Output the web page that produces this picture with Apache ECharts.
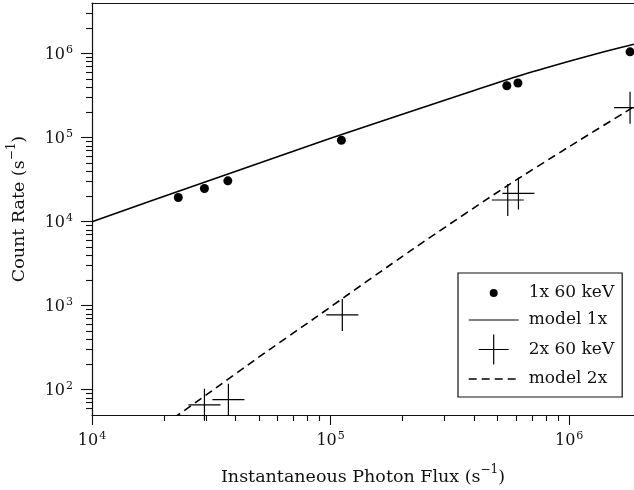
<!DOCTYPE html>
<html>
<head>
<meta charset="UTF-8">
<title>Count Rate vs Instantaneous Photon Flux</title>
<script src="https://cdn.jsdelivr.net/npm/echarts@6/dist/echarts.min.js"></script>
<style>
  html, body { margin: 0; padding: 0; background: #fff; }
  #chart { width: 634px; height: 490px; }
</style>
</head>
<body>
<div id="chart"></div>
<script>
// values
const flux1x = [2.3e4, 2.96e4, 3.71e4, 1.11e5, 5.48e5, 6.1e5, 1.8e6]
const rate1x = [1.94e4, 2.48e4, 3.06e4, 9.3e4, 4.14e5, 4.46e5, 1.05e6]

const flux2x = [2.96e4, 3.73e4, 1.12e5, 5.53e5, 6.13e5, 1.8e6]
const rate2x = [66, 76, 776, 1.81e4, 2.17e4, 2.27e5]

const modelFlux1x = [1e4, 3e4, 1e5, 2e5, 3.85e5, 6e5, 1e6, 1.4e6, 1.87e6]
const modelRate1x = [1e4, 2.98e4, 9.8e4, 1.9e5, 3.52e5, 5.3e5, 8.1e5, 1.05e6, 1.29e6]

const modelFlux2x = [2.2e4, 3e4, 5e4, 8.75e4, 2.22e5, 5.5e5, 1e6, 1.87e6]
const modelRate2x = [46, 86, 244, 740, 4740, 2.67e4, 7.8e4, 2.33e5]

const xMajor = [1e4, 1e5, 1e6]
const xMinor = [2e4, 3e4, 4e4, 5e4, 6e4, 7e4, 8e4, 9e4, 2e5, 3e5, 4e5, 5e5, 6e5, 7e5, 8e5, 9e5]
const yMajor = [1e2, 1e3, 1e4, 1e5, 1e6]
const yMinor = [60, 70, 80, 90, 2e2, 3e2, 4e2, 5e2, 6e2, 7e2, 8e2, 9e2,
  2e3, 3e3, 4e3, 5e3, 6e3, 7e3, 8e3, 9e3, 2e4, 3e4, 4e4, 5e4, 6e4, 7e4, 8e4, 9e4,
  2e5, 3e5, 4e5, 5e5, 6e5, 7e5, 8e5, 9e5, 2e6, 3e6]

const pairs = (xs, ys) => xs.map((x, i) => [x, ys[i]])

const font = 'DejaVu Serif'
const ink = '#111'
const powRich = {
  b: { fontFamily: font, fontSize: 16, color: ink, lineHeight: 18, verticalAlign: 'bottom' },
  s: { fontFamily: font, fontSize: 11, color: ink, lineHeight: 18, verticalAlign: 'top', padding: [0, 0, 0, 1] }
}
const powLabel = v => '{b|10}{s|' + Math.round(Math.log10(v)) + '}'
const nameRich = {
  t: { fontFamily: font, fontSize: 17.5, color: ink, lineHeight: 22, verticalAlign: 'bottom' },
  s: { fontFamily: font, fontSize: 12, color: ink, lineHeight: 22, verticalAlign: 'top' }
}

const chart = echarts.init(document.getElementById('chart'))

const xBase = { type: 'log', logBase: 10, min: 1e4, max: 1.87e6, gridIndex: 0, splitLine: { show: false } }
const yBase = { type: 'log', logBase: 10, min: 50, max: 4e6, gridIndex: 0, splitLine: { show: false } }

chart.setOption({
  animation: false,
  backgroundColor: '#fff',
  grid: { left: 92, top: 3, width: 542, height: 412, containLabel: false, outerBoundsMode: 'none' },
  xAxis: [
    Object.assign({}, xBase, {
      position: 'bottom',
      name: '{t|Instantaneous Photon Flux (s}{s|\u22121}{t|)}',
      nameLocation: 'middle',
      nameGap: 49,
      nameTextStyle: { rich: nameRich },
      axisLine: { show: true, lineStyle: { color: ink, width: 1.2 } },
      axisTick: { show: true, inside: false, length: 10, customValues: xMajor, lineStyle: { color: ink, width: 1.1 } },
      axisLabel: { customValues: xMajor, margin: 16, formatter: powLabel, rich: powRich }
    }),
    Object.assign({}, xBase, {
      position: 'bottom',
      axisLine: { show: false },
      axisTick: { show: true, inside: false, length: 6, customValues: xMinor, lineStyle: { color: ink, width: 1.1 } },
      axisLabel: { show: false }
    }),
    Object.assign({}, xBase, {
      position: 'top',
      axisLine: { show: true, lineStyle: { color: ink, width: 1.2 } },
      axisTick: { show: false },
      axisLabel: { show: false }
    })
  ],
  yAxis: [
    Object.assign({}, yBase, {
      position: 'left',
      name: '{t|Count Rate (s}{s|\u22121}{t|)}',
      nameLocation: 'middle',
      nameGap: 64,
      nameRotate: 90,
      nameTextStyle: { rich: nameRich },
      axisLine: { show: true, lineStyle: { color: ink, width: 1.2 } },
      axisTick: { show: true, inside: false, length: 11, customValues: yMajor, lineStyle: { color: ink, width: 1.1 } },
      axisLabel: { customValues: yMajor, margin: 19, formatter: powLabel, rich: powRich }
    }),
    Object.assign({}, yBase, {
      position: 'left',
      axisLine: { show: false },
      axisTick: { show: true, inside: false, length: 6, customValues: yMinor, lineStyle: { color: ink, width: 1.1 } },
      axisLabel: { show: false }
    })
  ],
  legend: {
    orient: 'vertical',
    left: 458,
    top: 273,
    padding: [5, 8, 6, 10],
    itemWidth: 50,
    itemHeight: 30,
    itemGap: 0,
    borderColor: ink,
    borderWidth: 1.2,
    backgroundColor: '#fff',
    selectedMode: false,
    textStyle: { fontFamily: font, fontSize: 17, color: ink, padding: [0, 0, 0, 5] },
    data: [
      { name: '1x 60 keV', icon: 'path://M0,0M30,30M11,15a4,4 0 1,0 8,0a4,4 0 1,0 -8,0', itemStyle: { color: '#000', borderWidth: 0 } },
      { name: 'model 1x', itemStyle: { opacity: 0 }, lineStyle: { width: 1.2 } },
      { name: '2x 60 keV', icon: 'path://M0,15H30M15,0V30', itemStyle: { color: 'none', borderColor: '#000', borderWidth: 1.2 } },
      { name: 'model 2x', itemStyle: { opacity: 0 }, lineStyle: { width: 1.4 } }
    ]
  },
  series: [
    {
      name: 'model 1x',
      type: 'line',
      xAxisIndex: 0,
      yAxisIndex: 0,
      symbol: 'none',
      smooth: 0.25,
      clip: true,
      lineStyle: { color: '#000', width: 1.6 },
      itemStyle: { color: '#000' },
      data: pairs(modelFlux1x, modelRate1x),
      z: 2
    },
    {
      name: 'model 2x',
      type: 'line',
      xAxisIndex: 0,
      yAxisIndex: 0,
      symbol: 'none',
      smooth: 0.25,
      clip: true,
      lineStyle: { color: '#000', width: 1.6, type: [8, 5] },
      itemStyle: { color: '#000' },
      data: pairs(modelFlux2x, modelRate2x),
      z: 2
    },
    {
      name: '1x 60 keV',
      type: 'scatter',
      xAxisIndex: 0,
      yAxisIndex: 0,
      symbol: 'circle',
      symbolSize: 9,
      itemStyle: { color: '#000', opacity: 1 },
      data: pairs(flux1x, rate1x),
      z: 3
    },
    {
      name: '2x 60 keV',
      type: 'scatter',
      xAxisIndex: 0,
      yAxisIndex: 0,
      symbol: 'path://M0,15H30M15,0V30',
      symbolSize: 32,
      symbolKeepAspect: true,
      itemStyle: { color: 'none', borderColor: '#000', borderWidth: 1.2, opacity: 1 },
      data: pairs(flux2x, rate2x),
      z: 3
    }
  ]
})
</script>
</body>
</html>
